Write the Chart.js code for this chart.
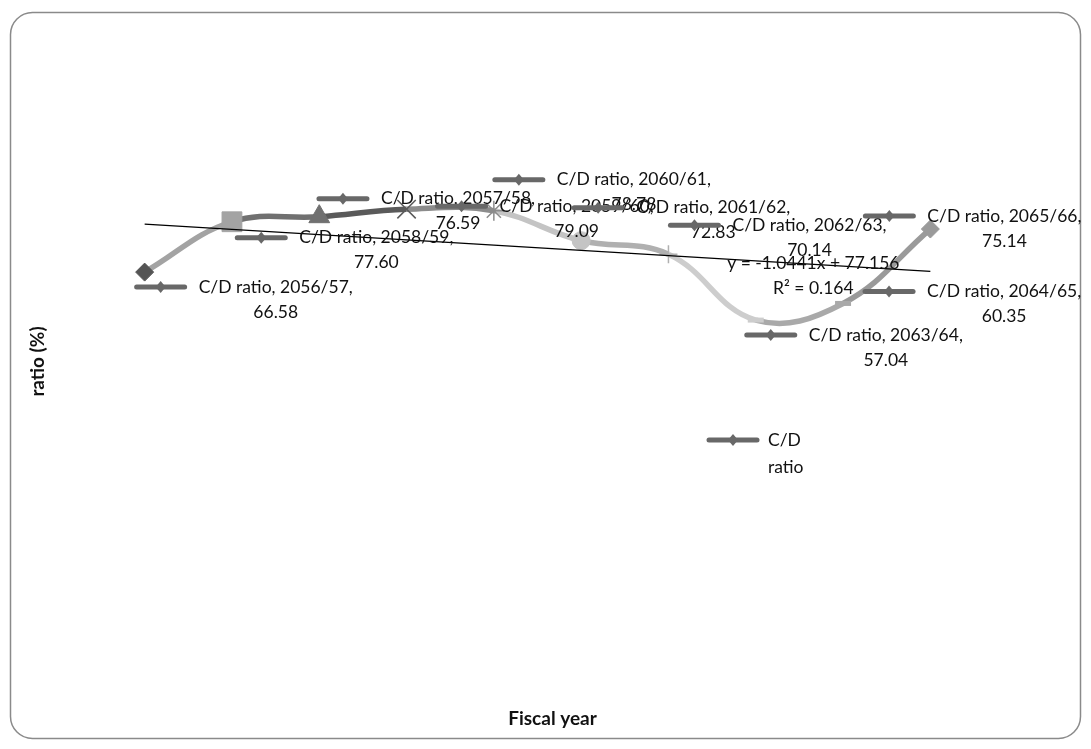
<!DOCTYPE html>
<html>
<head>
<meta charset="utf-8">
<script src="https://cdn.jsdelivr.net/npm/chart.js@4/dist/chart.umd.min.js"></script>
<style>
html, body { margin: 0; padding: 0; background: #fff; }
#wrap { width: 1091px; height: 749px; }
</style>
</head>
<body>
<div id="wrap"><canvas id="chart" width="1091" height="749"></canvas></div>
<script>
"use strict";

// fiscal years and C/D ratio (%)
var years = ['2056/57', '2057/58', '2058/59', '2059/60', '2060/61',
	'2061/62', '2062/63', '2063/64', '2064/65', '2065/66'];
var cdRatio = [66.58, 76.59, 77.60, 79.09, 78.78, 72.83, 70.14, 57.04, 60.35, 75.14];

// linear trendline shown on the chart
var trendCoef = [-1.0441, 77.156];
var trendR2 = 0.164;

var seriesName = 'C/D ratio';

// styles, one per point (Excel "vary colours by point")
var pointColors = ['#545454', '#a3a3a3', '#707070', '#5a5a5a', '#8c8c8c',
	'#c4c4c4', '#b0b0b0', '#cdcdcd', '#a9a9a9', '#9a9a9a'];
var pointShapes = ['rectRot', 'rect', 'triangle', 'crossRot', 'star',
	'circle', 'cross', 'line', 'line', 'rectRot'];
var pointSizes = [9, 14, 12, 13, 10, 9, 9, 8, 8, 9];
var pointBorders = [1, 1, 1, 1.5, 1.5, 1, 1.5, 5, 5, 1];

// where each data label sits, relative to its point (key start, first line)
var labelOffsets = [[-11, 15], [84, -23], [-85, 21], [28, -3], [-2, -31],
	[-10, -33], [-1, -29], [-12, 15], [19, -12], [-68, -13]];

var labelFont = '17.5px Lato, "Noto Sans", sans-serif';
var titleFont = 'bold 19px Lato, "Noto Sans", sans-serif';
var keyColor = '#686868';

function drawKey(ctx, x, y) {
	ctx.save();
	ctx.strokeStyle = keyColor;
	ctx.lineWidth = 5;
	ctx.lineCap = 'round';
	ctx.beginPath();
	ctx.moveTo(x + 3, y);
	ctx.lineTo(x + 51, y);
	ctx.stroke();
	ctx.fillStyle = keyColor;
	ctx.beginPath();
	ctx.moveTo(x + 27, y - 6);
	ctx.lineTo(x + 32, y);
	ctx.lineTo(x + 27, y + 6);
	ctx.lineTo(x + 22, y);
	ctx.closePath();
	ctx.fill();
	ctx.restore();
}

var extrasPlugin = {
	id: 'extras',
	beforeDraw: function (chart) {
		var ctx = chart.ctx;
		ctx.save();
		ctx.fillStyle = '#fff';
		ctx.fillRect(0, 0, chart.width, chart.height);
		ctx.strokeStyle = '#8a8a8a';
		ctx.lineWidth = 1.5;
		ctx.beginPath();
		ctx.roundRect(10.5, 12.5, 1070, 726, 22);
		ctx.stroke();
		ctx.restore();
	},
	afterDatasetsDraw: function (chart) {
		var ctx = chart.ctx;
		var area = chart.chartArea;
		var meta = chart.getDatasetMeta(0);
		ctx.save();
		ctx.font = labelFont;
		ctx.fillStyle = '#111';
		ctx.textBaseline = 'middle';

		// data labels with legend key
		meta.data.forEach(function (pt, i) {
			var kx = pt.x + labelOffsets[i][0];
			var ky = pt.y + labelOffsets[i][1];
			drawKey(ctx, kx, ky);
			var line1 = seriesName + ', ' + years[i] + ',';
			var tx = kx + 65;
			var w = ctx.measureText(line1).width;
			ctx.textAlign = 'left';
			ctx.fillText(line1, tx, ky);
			ctx.textAlign = 'center';
			ctx.fillText(cdRatio[i].toFixed(2), tx + w / 2, ky + 25);
		});

		// trendline equation
		var last = chart.getDatasetMeta(1).data[years.length - 1];
		var ex = last.x - 117, ey = last.y - 8;
		ctx.textAlign = 'center';
		var sign = trendCoef[1] >= 0 ? ' + ' : ' - ';
		ctx.fillText('y = ' + trendCoef[0].toFixed(4) + 'x' + sign + Math.abs(trendCoef[1]).toFixed(3), ex, ey);
		ctx.fillText('R\u00b2 = ' + trendR2.toFixed(3), ex, ey + 25);

		// legend
		var lx = area.left + 605, ly = area.top + 336;
		drawKey(ctx, lx, ly);
		ctx.textAlign = 'left';
		var words = seriesName.split(' ');
		ctx.fillText(words[0], lx + 62, ly);
		ctx.fillText(words[1], lx + 62, ly + 27);

		// axis titles
		ctx.font = titleFont;
		ctx.textAlign = 'center';
		ctx.fillText('Fiscal year', (area.left + area.right) / 2 + 15, 719);
		ctx.translate(38, (area.top + area.bottom) / 2 + 6);
		ctx.rotate(-Math.PI / 2);
		ctx.fillText('ratio (%)', 0, 0);
		ctx.restore();
	}
};

var ctx = document.getElementById('chart').getContext('2d');
var chart = new Chart(ctx, {
	type: 'line',
	data: {
		labels: years,
		datasets: [{
			label: seriesName,
			data: cdRatio,
			order: 2,
			borderWidth: 5.5,
			tension: 0.4,
			segment: {
				borderColor: function (c) { return pointColors[c.p1DataIndex]; }
			},
			borderColor: pointColors[1],
			pointStyle: pointShapes,
			pointRadius: pointSizes,
			pointBorderWidth: pointBorders,
			pointBackgroundColor: pointColors,
			pointBorderColor: pointColors
		}, {
			label: 'Linear (' + seriesName + ')',
			data: years.map(function (y, i) { return trendCoef[1] + trendCoef[0] * (i + 1); }),
			order: 1,
			borderColor: '#000',
			borderWidth: 1.3,
			pointRadius: 0,
			tension: 0
		}]
	},
	options: {
		responsive: false,
		animation: false,
		devicePixelRatio: 1,
		layout: { padding: { left: 101, right: 117, top: 104, bottom: 142 } },
		scales: {
			x: { display: false, offset: true },
			y: { display: false, min: 0, max: 100 }
		},
		plugins: {
			legend: { display: false },
			tooltip: { enabled: false }
		}
	},
	plugins: [extrasPlugin]
});
</script>
</body>
</html>
